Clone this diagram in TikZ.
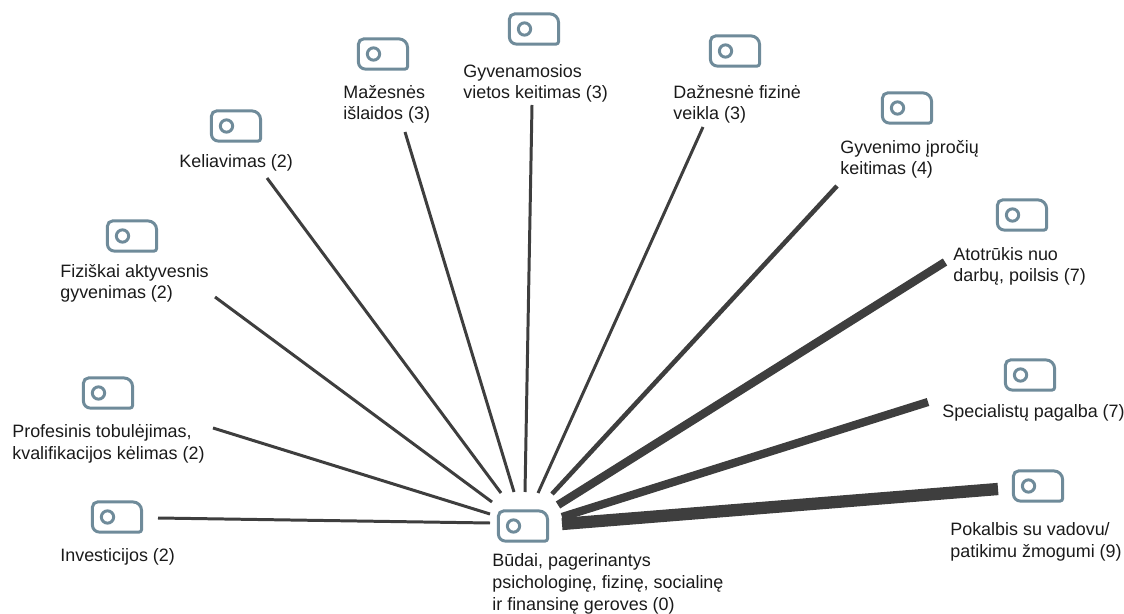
\documentclass[tikz,border=0pt]{standalone}
\usepackage{fontspec}
\setmainfont{Liberation Sans}
\definecolor{iconcol}{RGB}{111,139,154}
\definecolor{linkcol}{RGB}{62,62,62}
\definecolor{txtcol}{RGB}{26,26,26}
\tikzset{
  x=0.02cm, y=-0.02cm,
  iconline/.style={draw=iconcol, line width=1.7pt},
  tagicon/.pic={
    \draw[iconline] (-11pt,8.6pt) -- (9pt,8.6pt)
      arc[start angle=90,end angle=0,radius=5pt] -- (14pt,-7.1pt)
      arc[start angle=0,end angle=-90,radius=1.5pt] -- (-10pt,-8.6pt)
      arc[start angle=270,end angle=180,radius=4pt] -- (-14pt,5.6pt)
      arc[start angle=180,end angle=90,radius=3pt] -- cycle;
    \draw[iconline] (-5.4pt,0pt) circle[radius=3.5pt];
    \node[inner sep=0pt, minimum width=28pt, minimum height=17pt] (-box) {};
  },
  % base anchor of a multi-line label sits on its last line
  lbl/.style={anchor=base west, inner sep=0pt, align=left, text=txtcol,
    font=\fontsize{10.2pt}{12.5pt}\selectfont},
  link/.style={draw=linkcol, line width=1.7pt},
  link4/.style={link, line width=2.6pt},
  link7/.style={link, line width=4.7pt},
  link9/.style={link, line width=7pt},
}
\begin{document}
\begin{tikzpicture}
\useasboundingbox (0,0) rectangle (1124,614);

% icons
\pic (cen) at (523,526) {tagicon};
\pic (inv) at (117,517) {tagicon};
\pic (pro) at (108,393) {tagicon};
\pic (fiz) at (132,236) {tagicon};
\pic (kel) at (236,126) {tagicon};
\pic (maz) at (383,54) {tagicon};
\pic (gyv) at (534,29) {tagicon};
\pic (daz) at (735,51) {tagicon};
\pic (gip) at (907,108) {tagicon};
\pic (ato) at (1022,215) {tagicon};
\pic (spe) at (1030,375) {tagicon};
\pic (pok) at (1038,486) {tagicon};

% labels
\node[lbl] (cenL) at (492,610) {Būdai, pagerinantys\\psichologinę, fizinę, socialinę\\ir finansinę geroves (0)};
\node[lbl] (invL) at (60,561) {Investicijos (2)};
\node[lbl] (proL) at (12,459) {Profesinis tobulėjimas,\\kvalifikacijos kėlimas (2)};
\node[lbl] (fizL) at (60,299) {Fiziškai aktyvesnis\\gyvenimas (2)};
\node[lbl] (kelL) at (179,168) {Keliavimas (2)};
\node[lbl] (mazL) at (343,120) {Mažesnės\\išlaidos (3)};
\node[lbl] (gyvL) at (463,99) {Gyvenamosios\\vietos keitimas (3)};
\node[lbl] (dazL) at (673,120) {Dažnesnė fizinė\\veikla (3)};
\node[lbl] (gipL) at (840,175) {Gyvenimo įpročių\\keitimas (4)};
\node[lbl] (atoL) at (953,282) {Atotrūkis nuo\\darbų, poilsis (7)};
\node[lbl] (speL) at (942,417) {Specialistų pagalba (7)};
\node[lbl] (pokL) at (950,557) {Pokalbis su vadovu/\\patikimu žmogumi (9)};

% connector ends
\coordinate (invE) at (158,518);  \coordinate (invC) at (490,523);
\coordinate (proE) at (213,428);  \coordinate (proC) at (490,514);
\coordinate (fizE) at (215,297);  \coordinate (fizC) at (492,502);
\coordinate (kelE) at (267,178);  \coordinate (kelC) at (501,493);
\coordinate (mazE) at (405,132);  \coordinate (mazC) at (514,492);
\coordinate (gyvE) at (532,105);  \coordinate (gyvC) at (525,492);
\coordinate (dazE) at (703,127);  \coordinate (dazC) at (538,493);
\coordinate (gipE) at (837,186);  \coordinate (gipC) at (552,494);
\coordinate (atoE) at (945,262);  \coordinate (atoC) at (558,505);
\coordinate (speE) at (928,402);  \coordinate (speC) at (562,517);
\coordinate (pokE) at (998,489);  \coordinate (pokC) at (562,524);

% connectors
\draw[link] (invE) -- (invC);
\draw[link] (proE) -- (proC);
\draw[link] (fizE) -- (fizC);
\draw[link] (kelE) -- (kelC);
\draw[link] (mazE) -- (mazC);
\draw[link] (gyvE) -- (gyvC);
\draw[link] (dazE) -- (dazC);
\draw[link4] (gipE) -- (gipC);
\draw[link7] (atoE) -- (atoC);
\draw[link7] (speE) -- (speC);
\draw[link9] (pokE) -- (pokC);
\end{tikzpicture}
\end{document}
